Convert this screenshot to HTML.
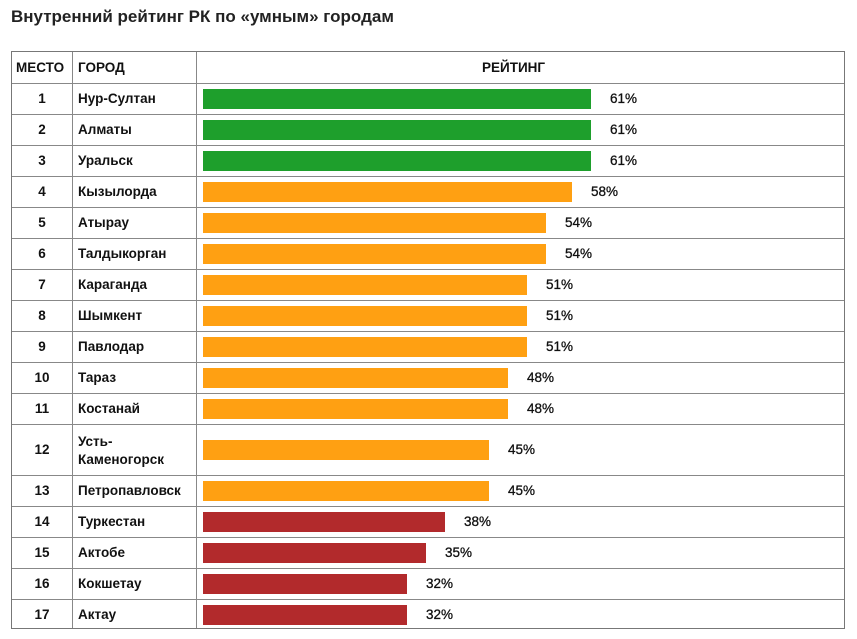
<!DOCTYPE html>
<html><head><meta charset="utf-8"><style>
body{margin:0;width:857px;height:639px;background:#fff;font-family:"Liberation Sans",sans-serif;position:relative;overflow:hidden;color:#111}
.t{position:absolute;left:11px;top:7px;font-size:17px;font-weight:bold;color:#222}
.tbl{position:absolute;left:11px;top:51px;width:834px;height:578px;border:1.5px solid #777;box-sizing:border-box}
.h{position:absolute;left:0;width:100%;height:0;border-top:1.5px solid #888}
.v{position:absolute;top:0;height:100%;width:0;border-left:1.5px solid #888}
.c{position:absolute;font-size:13.5px;font-weight:bold;line-height:16px}
.b{position:absolute;left:191px;height:20px}
</style></head><body>
<div class="t">Внутренний рейтинг РК по «умным» городам</div>
<div class="tbl" id="tb">
<div class="v" style="left:60px"></div><div class="v" style="left:184px"></div>
</div>
<script>
const d=[["Нур-Султан",61],["Алматы",61],["Уральск",61],["Кызылорда",58],["Атырау",54],["Талдыкорган",54],["Караганда",51],["Шымкент",51],["Павлодар",51],["Тараз",48],["Костанай",48],["Усть-<br>Каменогорск",45],["Петропавловск",45],["Туркестан",38],["Актобе",35],["Кокшетау",32],["Актау",32]];
const tb=document.getElementById('tb');let h='';
h+='<div class="c" style="left:4px;top:8px">МЕСТО</div><div class="c" style="left:66px;top:8px">ГОРОД</div><div class="c" style="left:470px;top:8px">РЕЙТИНГ</div>';
let y=31;
d.forEach((r,i)=>{const ht=i==11?51:31;h+='<div class="h" style="top:'+y+'px"></div>';
const col=i<3?'#1e9f2c':i<13?'#ffa012':'#b22a2c';
const w=Math.round(r[1]*6.36);const cy=y+ht/2;
h+='<div class="c" style="left:0;width:60px;text-align:center;top:'+(cy-8)+'px">'+(i+1)+'</div>';
h+='<div class="c" style="left:66px;top:'+(i==11?cy-17:cy-8)+'px;line-height:'+(i==11?'18px':'16px')+'">'+r[0]+'</div>';
h+='<div class="b" style="top:'+(cy-10)+'px;width:'+w+'px;background:'+col+'"></div>';
h+='<div class="c" style="left:'+(191+w+19)+'px;top:'+(cy-8)+'px;font-weight:normal;-webkit-text-stroke:0.3px #111">'+r[1]+'%</div>';
y+=ht;});
tb.innerHTML+=h;
</script>
</body></html>
